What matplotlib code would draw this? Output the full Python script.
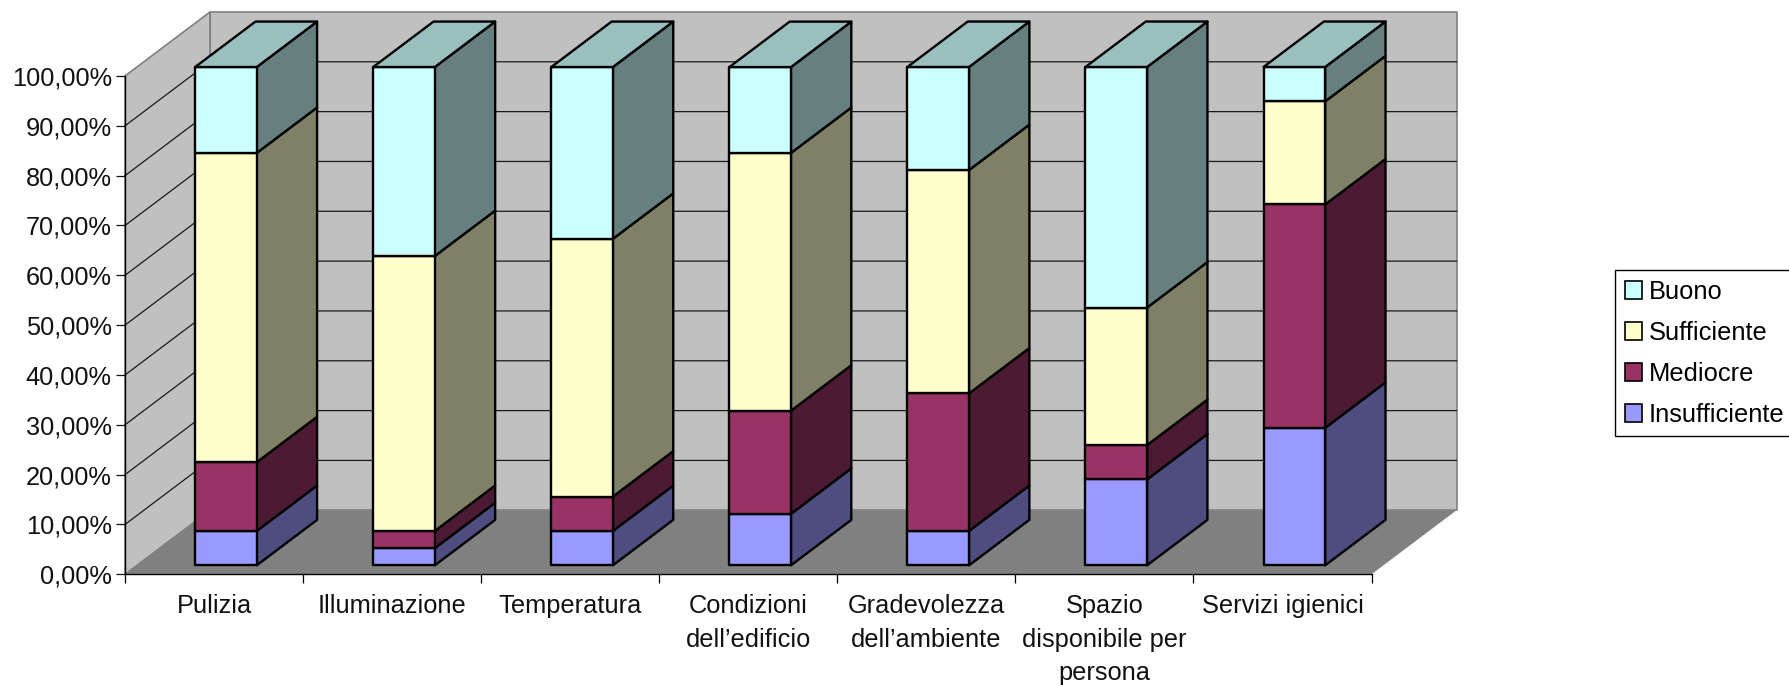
import numpy as np
import matplotlib
matplotlib.use('Agg')
import matplotlib.pyplot as plt
from matplotlib.patches import Patch, Polygon

plt.rcParams['font.family'] = ['Liberation Sans', 'DejaVu Sans']
plt.rcParams['font.size'] = 18.3

categorie = ['Pulizia', 'Illuminazione', 'Temperatura', 'Condizioni\ndell\u2019edificio',
             'Gradevolezza\ndell\u2019ambiente', 'Spazio\ndisponibile per\npersona', 'Servizi igienici']
insufficiente = [6.90, 3.45, 6.90, 10.34, 6.90, 17.24, 27.59]
mediocre = [13.79, 3.45, 6.90, 20.69, 27.59, 6.90, 44.83]
sufficiente = [62.07, 55.17, 51.72, 51.72, 44.83, 27.59, 20.69]
buono = [17.24, 37.93, 34.48, 17.24, 20.69, 48.28, 6.90]
tick_values = [0, 10, 20, 30, 40, 50, 60, 70, 80, 90, 100]
tick_labels = ['0,00%', '10,00%', '20,00%', '30,00%', '40,00%', '50,00%',
               '60,00%', '70,00%', '80,00%', '90,00%', '100,00%']

serie = [insufficiente, mediocre, sufficiente, buono]
nomi = ['Insufficiente', 'Mediocre', 'Sufficiente', 'Buono']
front_col = ['#9999FF', '#993366', '#FFFFCC', '#CCFFFF']
side_col = ['#4D4D80', '#4D1A33', '#808066', '#668080']
top_col = '#99BFBF'

# fake 3d: one unit of depth moves a point this far in data units
DEPTH_X = 85 / 178.07
DEPTH_Y = 64 / 4.98
BAR_W = 0.346
BAR_D0 = 0.14
BAR_D1 = 0.85


def pt(x, v, d=0.0):
    return (x + d * DEPTH_X, v + d * DEPTH_Y)


W, H = 1789, 685
fig = plt.figure(figsize=(W / 100, H / 100), dpi=100)
ax = fig.add_axes([125 / W, (H - 574.3) / H, 1246.5 / W, 498.3 / H])
ax.set_xlim(0, len(categorie))
ax.set_ylim(0, 100)
ax.patch.set_visible(False)


def poly(points, color, z, edge='none', lw=0.0):
    ax.add_patch(Polygon(points, closed=True, facecolor=color, edgecolor=edge,
                         linewidth=lw, zorder=z, clip_on=False, joinstyle='round'))


n = len(categorie)
gray = '#808080'
# walls and floor
poly([pt(0, 0, 1), pt(n, 0, 1), pt(n, 100, 1), pt(0, 100, 1)], '#C0C0C0', 1, gray, 1.2)
poly([pt(0, 0), pt(0, 0, 1), pt(0, 100, 1), pt(0, 100)], '#C0C0C0', 1, gray, 1.2)
poly([pt(0, 0), pt(n, 0), pt(n, 0, 1), pt(0, 0, 1)], '#808080', 1.1)

for v in tick_values[1:-1]:
    xs, ys = zip(pt(0, v), pt(0, v, 1), pt(n, v, 1))
    ax.plot(xs, ys, color='#1a1a1a', lw=0.9, zorder=1.2, clip_on=False)

# bars, bottom segment first
base = np.zeros(n)
for s, vals in enumerate(serie):
    vals = np.array(vals)
    for i in range(n):
        x0 = i + 0.5 - BAR_W / 2
        x1 = x0 + BAR_W
        y0 = base[i]
        y1 = y0 + vals[i]
        poly([pt(x1, y0, BAR_D0), pt(x1, y0, BAR_D1), pt(x1, y1, BAR_D1), pt(x1, y1, BAR_D0)],
             side_col[s], 3 + s * 0.1, 'black', 1.7)
        poly([pt(x0, y0, BAR_D0), pt(x1, y0, BAR_D0), pt(x1, y1, BAR_D0), pt(x0, y1, BAR_D0)],
             front_col[s], 3.05 + s * 0.1, 'black', 1.7)
        if s == len(serie) - 1:
            poly([pt(x0, y1, BAR_D0), pt(x1, y1, BAR_D0), pt(x1, y1, BAR_D1), pt(x0, y1, BAR_D1)],
                 top_col, 3.5, 'black', 1.7)
    base = base + vals

for name in ['top', 'right']:
    ax.spines[name].set_visible(False)
for name in ['left', 'bottom']:
    ax.spines[name].set_linewidth(1.0)
    ax.spines[name].set_zorder(2)

ax.set_yticks(tick_values)
ax.set_yticklabels(tick_labels)
ax.tick_params(axis='y', length=6.5, width=0.9, pad=3, labelsize=18.3, colors='#111111')

ax.set_xticks(np.arange(n + 1))
ax.set_xticklabels([])
ax.set_xticks(np.arange(n) + 0.5, minor=True)
ax.set_xticklabels(categorie, minor=True, linespacing=1.49, va='top')
ax.tick_params(axis='x', which='major', length=6.5, width=0.9)
ax.tick_params(axis='x', which='minor', length=0, pad=14.5, labelsize=18.3, colors='#111111')

handles = [Patch(facecolor=front_col[s], edgecolor='black', linewidth=1.2, label=nomi[s])
           for s in range(len(nomi) - 1, -1, -1)]
leg = fig.legend(handles=handles, loc='upper left', bbox_to_anchor=(1615.3 / W, (H - 270.4) / H),
                 borderaxespad=0, fontsize=18.4, fancybox=False, framealpha=1, edgecolor='black',
                 borderpad=0.38, handlelength=0.66, handleheight=0.68, handletextpad=0.28,
                 labelspacing=0.66)
leg.get_frame().set_linewidth(1.0)

fig.savefig('out.png', dpi=100)
